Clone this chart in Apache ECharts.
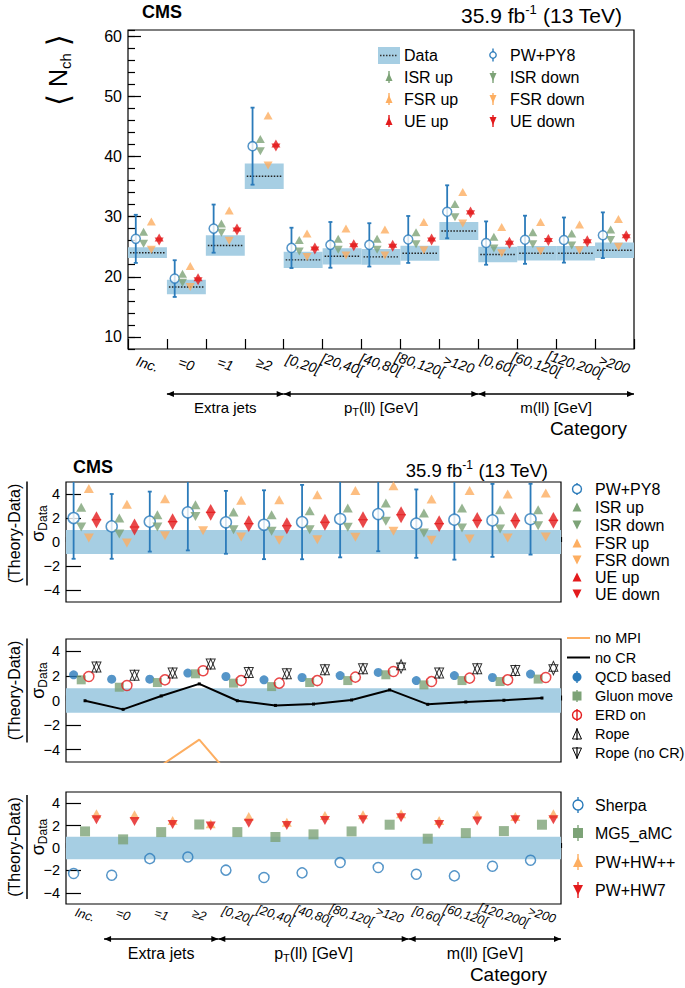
<!DOCTYPE html>
<html>
<head>
<meta charset="utf-8">
<script src="https://cdn.jsdelivr.net/npm/echarts@6/dist/echarts.min.js"></script>
<style>
  html, body { margin: 0; background: #fff; }
  #grafico { width: 685px; height: 988px; }
</style>
</head>
<body>
<div id="grafico"></div>
<script>
// categorias (eixo x)
const categorias = ['Inc.', '=0', '=1', '≥2', '[0,20[', '[20,40[', '[40,80[', '[80,120[', '>120', '[0,60[', '[60,120[', '[120,200[', '>200'];
const grupoNomes = ['Extra jets', 'p{sub|T}(ll) [GeV]', 'm(ll) [GeV]'];
const grupoInicio = [1, 4, 9];
const grupoFim = [4, 9, 13];

// painel de cima: <N_ch>
const ticksTopo = [10, 20, 30, 40, 50, 60];
const dados = [24.0, 18.3, 25.2, 36.7, 22.8, 23.4, 23.3, 23.9, 27.6, 23.7, 23.9, 23.9, 24.4];
const dadosErro = [0.9, 1.2, 1.7, 2.1, 1.35, 1.35, 1.3, 1.25, 1.5, 1.3, 1.2, 1.2, 1.3];
const pwpy8 = [26.3, 19.7, 28.0, 41.7, 24.8, 25.3, 25.3, 26.2, 30.8, 25.6, 26.15, 26.1, 26.9];
const pwpy8Erro = [4.0, 3.05, 4.0, 6.4, 3.35, 3.8, 3.6, 3.9, 4.4, 3.6, 4.0, 3.75, 3.8];
const isrUp = [27.5, 20.5, 28.85, 42.9, 26.1, 26.3, 26.3, 27.4, 32.1, 26.65, 27.4, 27.2, 27.85];
const isrDown = [25.5, 19.0, 27.3, 40.85, 24.2, 24.5, 24.5, 25.4, 29.9, 24.7, 25.4, 25.2, 26.1];
const fsrUp = [29.2, 21.8, 31.0, 46.8, 27.2, 28.0, 27.85, 29.1, 34.1, 28.25, 29.1, 28.7, 29.6];
const fsrDown = [24.5, 18.3, 26.0, 38.5, 23.3, 23.55, 23.55, 24.4, 28.85, 23.9, 24.25, 24.4, 25.0];
const ueUp = [26.53, 19.93, 28.18, 42.13, 25.03, 25.58, 25.48, 26.53, 31.03, 25.98, 26.43, 26.23, 27.08];
const ueDown = [25.87, 19.27, 27.52, 41.47, 24.37, 24.92, 24.82, 25.87, 30.37, 25.32, 25.77, 25.57, 26.42];

// paineis de razao (Theory-Data)/sigma
const ticksRazao = [-4, -2, 0, 2, 4];
const faixaDados = [-1, 1];
const pwpy8R = [2.0, 1.3, 1.7, 2.47, 1.64, 1.44, 1.66, 1.92, 2.33, 1.53, 1.86, 1.8, 1.9];
const pwpy8RErro = [3.4, 2.7, 2.5, 3.17, 2.62, 2.87, 3.1, 3.2, 3.1, 2.85, 3.33, 3.04, 2.95];
const isrUpR = [2.9, 2.0, 2.27, 3.1, 2.5, 2.27, 2.6, 2.83, 3.25, 2.42, 2.83, 2.69, 2.69];
const isrDownR = [1.25, 0.67, 1.25, 2.13, 1.03, 0.89, 1.03, 1.22, 1.72, 0.75, 1.17, 1.08, 1.36];
const fsrUpR = [4.45, 3.15, 3.6, 5.8, 3.47, 3.52, 3.94, 4.3, 4.69, 3.58, 4.3, 4.0, 4.08];
const fsrDownR = [0.33, -0.08, 0.52, 0.94, 0.42, 0.14, 0.19, 0.39, 0.89, 0.14, 0.25, 0.33, 0.42];
const ueUpR = [2.18, 1.58, 2.03, 2.8, 1.86, 1.69, 1.97, 2.19, 2.6, 1.86, 2.13, 2.11, 2.13];
const ueDownR = [1.52, 0.92, 1.37, 2.14, 1.2, 1.03, 1.31, 1.53, 1.94, 1.2, 1.47, 1.45, 1.47];

const noMPI = [-8.2, -7.9, -5.28, -3.18, -6.8, -7.6, -7.4, -7.0, -6.1, -7.7, -7.5, -7.3, -6.9];
const noCR = [-0.02, -0.72, 0.37, 1.35, -0.02, -0.4, -0.29, 0.04, 0.86, -0.31, -0.12, 0.02, 0.2];
const qcdBased = [2.09, 1.73, 1.73, 2.23, 1.95, 1.68, 1.87, 2.03, 2.28, 1.62, 2.03, 1.87, 2.15];
const gluonMove = [1.68, 1.08, 1.46, 2.17, 1.41, 1.13, 1.46, 1.62, 2.09, 1.27, 1.62, 1.54, 1.74];
const erdOn = [1.95, 1.22, 1.68, 2.42, 1.62, 1.41, 1.62, 1.9, 2.36, 1.54, 1.82, 1.68, 1.87];
const rope = [2.72, 2.06, 2.23, 2.97, 2.28, 2.17, 2.5, 2.58, 2.91, 2.23, 2.58, 2.44, 2.78];
const ropeNoCR = [2.72, 2.06, 2.23, 2.97, 2.28, 2.17, 2.5, 2.58, 2.63, 2.23, 2.58, 2.44, 2.5];

const sherpa = [-2.28, -2.43, -0.95, -0.8, -1.98, -2.63, -2.22, -1.3, -1.74, -2.34, -2.49, -1.63, -1.09];
const mg5amc = [1.48, 0.77, 1.42, 2.1, 1.42, 0.98, 1.22, 1.48, 2.08, 0.83, 1.33, 1.51, 2.08];
const pwhwpp = [3.05, 2.97, 2.46, 2.17, 2.82, 2.31, 2.9, 2.97, 3.06, 2.46, 2.97, 2.82, 3.06];
const pwhw7 = [2.52, 2.37, 2.1, 1.96, 2.22, 2.02, 2.46, 2.52, 2.7, 2.1, 2.4, 2.52, 2.52];

const FONTE = "'Liberation Sans', Arial, sans-serif";
const C_FAIXA = '#a6cee3', C_AZUL = '#2b7bba', C_VERDE = '#7da377', C_LARANJA = '#fdae61', C_VERMELHO = '#e31a1c';
const N = categorias.length;

const chart = echarts.init(document.getElementById('grafico'), null, { renderer: 'svg' });

const grids = [
  { left: 128, top: 30, width: 506, height: 319 },
  { left: 66, top: 482, width: 495, height: 120 },
  { left: 66, top: 639, width: 495, height: 123 },
  { left: 66, top: 792, width: 495, height: 112 }
].map(g => Object.assign({ show: true, borderColor: '#000', borderWidth: 1.2, backgroundColor: 'transparent' }, g));

const yIdx = [0, 2, 3, 4];

const xEixos = [];
grids.forEach((g, k) => {
  xEixos.push({
    gridIndex: k, type: 'value', position: 'bottom', min: 0, max: N, interval: 1,
    axisLine: { show: false }, splitLine: { show: false }, axisLabel: { show: false },
    axisTick: { inside: true, length: k === 0 ? 10 : 5, lineStyle: { color: '#000', width: 1.2 } }
  });
  xEixos.push({
    gridIndex: k, type: 'category', position: 'bottom', data: categorias, boundaryGap: true,
    axisLine: { show: false }, axisTick: { show: false },
    axisLabel: {
      show: k === 0 || k === 3, interval: 0, rotate: -18, align: 'center', verticalAlign: 'middle',
      margin: k === 0 ? 15 : 11, fontStyle: 'italic', fontSize: k === 0 ? 14 : 12.5, color: '#000', fontFamily: FONTE
    }
  });
});

const menos = v => (v < 0 ? '\u2212' + (-v) : '' + v);
const yEixos = [
  {
    gridIndex: 0, type: 'value', position: 'left', min: 8, max: 61,
    axisLine: { show: false }, splitLine: { show: false },
    axisTick: { inside: true, length: 13, customValues: ticksTopo, lineStyle: { color: '#000', width: 1.2 } },
    axisLabel: { customValues: ticksTopo, fontSize: 16, color: '#000', fontFamily: FONTE, margin: 6 }
  },
  {
    gridIndex: 0, type: 'value', position: 'left', min: 8, max: 61, interval: 2,
    axisLine: { show: false }, splitLine: { show: false }, axisLabel: { show: false },
    axisTick: { inside: true, length: 7, lineStyle: { color: '#000', width: 1.2 } }
  }
];
[1, 2, 3].forEach(k => yEixos.push({
  gridIndex: k, type: 'value', position: 'left', min: -5, max: 5,
  axisLine: { show: false }, splitLine: { show: false },
  axisTick: { inside: true, length: 15, customValues: ticksRazao, lineStyle: { color: '#000', width: 1.2 } },
  axisLabel: { customValues: ticksRazao, formatter: menos, fontSize: 14.5, color: '#000', fontFamily: FONTE, margin: 6 }
}));

// marcadores
function marcador(nome, valores, desloc, k, opts) {
  return Object.assign({
    name: nome, type: 'scatter', xAxisIndex: 2 * k, yAxisIndex: yIdx[k], z: 5, silent: true,
    data: valores.map((v, i) => [i + desloc, v])
  }, opts);
}
const tri = (cor, tam, baixo) => ({ symbol: 'triangle', symbolSize: tam, symbolRotate: baixo ? 180 : 0, itemStyle: { color: cor } });

function barras(valores, erros, desloc, k, cor) {
  return {
    type: 'custom', xAxisIndex: 2 * k, yAxisIndex: yIdx[k], z: 3, silent: true, clip: true,
    data: valores.map((v, i) => [i + desloc, v, erros[i]]),
    renderItem(params, api) {
      const x = api.value(0), v = api.value(1), e = api.value(2);
      const t = api.coord([x, v + e]), b = api.coord([x, v - e]);
      const st = { stroke: cor, lineWidth: 1.8 };
      return { type: 'group', children: [
        { type: 'line', shape: { x1: t[0], y1: t[1], x2: b[0], y2: b[1] }, style: st },
        { type: 'line', shape: { x1: t[0] - 2, y1: t[1], x2: t[0] + 2, y2: t[1] }, style: st },
        { type: 'line', shape: { x1: b[0] - 2, y1: b[1], x2: b[0] + 2, y2: b[1] }, style: st }
      ] };
    }
  };
}

function faixa(k) {
  return {
    type: 'custom', xAxisIndex: 2 * k, yAxisIndex: yIdx[k], z: 1, silent: true,
    data: [[0, faixaDados[0], N, faixaDados[1]]],
    renderItem(params, api) {
      const a = api.coord([api.value(0), api.value(3)]), b = api.coord([api.value(2), api.value(1)]);
      return { type: 'rect', shape: { x: a[0], y: a[1], width: b[0] - a[0], height: b[1] - a[1] }, style: { fill: C_FAIXA } };
    }
  };
}

const series = [
  {
    name: 'Data', type: 'custom', xAxisIndex: 0, yAxisIndex: 0, z: 1, silent: true,
    data: dados.map((v, i) => [i, v, dadosErro[i]]),
    renderItem(params, api) {
      const i = api.value(0), v = api.value(1), e = api.value(2);
      const a = api.coord([i, v + e]), b = api.coord([i + 1, v - e]);
      const m1 = api.coord([i, v]), m2 = api.coord([i + 1, v]);
      return { type: 'group', children: [
        { type: 'rect', shape: { x: a[0], y: a[1], width: b[0] - a[0], height: b[1] - a[1] }, style: { fill: C_FAIXA } },
        { type: 'line', shape: { x1: m1[0] + 2, y1: m1[1], x2: m2[0] - 2, y2: m2[1] }, style: { stroke: '#222', lineWidth: 1.4, lineDash: [1.5, 1.5] } }
      ] };
    }
  },
  barras(pwpy8, pwpy8Erro, 0.2, 0, C_AZUL),
  marcador('PW+PY8', pwpy8, 0.2, 0, { symbol: 'circle', symbolSize: 9, itemStyle: { color: '#fff', borderColor: C_AZUL, borderWidth: 1.5 } }),
  marcador('ISR up', isrUp, 0.4, 0, tri(C_VERDE, [9, 8])),
  marcador('ISR down', isrDown, 0.4, 0, tri(C_VERDE, [9, 8], true)),
  marcador('FSR up', fsrUp, 0.6, 0, tri(C_LARANJA, [9, 8])),
  marcador('FSR down', fsrDown, 0.6, 0, tri(C_LARANJA, [9, 8], true)),
  marcador('UE up', ueUp, 0.8, 0, tri(C_VERMELHO, [9, 8])),
  marcador('UE down', ueDown, 0.8, 0, tri(C_VERMELHO, [9, 8], true)),

  faixa(1),
  barras(pwpy8R, pwpy8RErro, 0.2, 1, C_AZUL),
  marcador('PW+PY8', pwpy8R, 0.2, 1, { symbol: 'circle', symbolSize: 11, itemStyle: { color: '#fff', borderColor: C_AZUL, borderWidth: 1.5 } }),
  marcador('ISR up', isrUpR, 0.4, 1, tri(C_VERDE, [10, 9])),
  marcador('ISR down', isrDownR, 0.4, 1, tri(C_VERDE, [10, 9], true)),
  marcador('FSR up', fsrUpR, 0.6, 1, tri(C_LARANJA, [10, 9])),
  marcador('FSR down', fsrDownR, 0.6, 1, tri(C_LARANJA, [10, 9], true)),
  marcador('UE up', ueUpR, 0.8, 1, tri(C_VERMELHO, [10, 9])),
  marcador('UE down', ueDownR, 0.8, 1, tri(C_VERMELHO, [10, 9], true)),

  faixa(2),
  { name: 'no MPI', type: 'line', xAxisIndex: 4, yAxisIndex: 3, z: 3, silent: true, clip: true, showSymbol: false,
    lineStyle: { color: C_LARANJA, width: 2 }, data: noMPI.map((v, i) => [i + 0.5, v]) },
  { name: 'no CR', type: 'line', xAxisIndex: 4, yAxisIndex: 3, z: 3, silent: true, clip: true,
    symbol: 'rect', symbolSize: 3, itemStyle: { color: '#000' },
    lineStyle: { color: '#000', width: 2 }, data: noCR.map((v, i) => [i + 0.5, v]) },
  marcador('QCD based', qcdBased, 0.2, 2, { symbol: 'circle', symbolSize: 9, itemStyle: { color: C_AZUL } }),
  marcador('Gluon move', gluonMove, 0.4, 2, { symbol: 'rect', symbolSize: 9, itemStyle: { color: C_VERDE } }),
  marcador('ERD on', erdOn, 0.6, 2, { symbol: 'circle', symbolSize: 10, itemStyle: { color: 'rgba(0,0,0,0)', borderColor: C_VERMELHO, borderWidth: 1.5 } }),
  marcador('Rope', rope, 0.8, 2, { symbol: 'triangle', symbolSize: [9, 10], itemStyle: { color: 'rgba(0,0,0,0)', borderColor: '#000', borderWidth: 1 } }),
  marcador('Rope (no CR)', ropeNoCR, 0.8, 2, { symbol: 'triangle', symbolSize: [9, 10], symbolRotate: 180, itemStyle: { color: 'rgba(0,0,0,0)', borderColor: '#000', borderWidth: 1 } }),

  faixa(3),
  marcador('Sherpa', sherpa, 0.2, 3, { symbol: 'circle', symbolSize: 10, itemStyle: { color: 'rgba(0,0,0,0)', borderColor: C_AZUL, borderWidth: 1.5 } }),
  marcador('MG5_aMC', mg5amc, 0.5, 3, { symbol: 'rect', symbolSize: 10, itemStyle: { color: C_VERDE } }),
  marcador('PW+HW++', pwhwpp, 0.8, 3, tri(C_LARANJA, [10, 9])),
  marcador('PW+HW7', pwhw7, 0.8, 3, tri(C_VERMELHO, [10, 9], true))
];

chart.setOption({
  animation: false,
  textStyle: { fontFamily: FONTE },
  grid: grids,
  xAxis: xEixos,
  yAxis: yEixos,
  series: series
});

// elementos graficos: legendas, titulos, setas
function texto(x, y, t, tam, extra) {
  return { type: 'text', x, y, silent: true, z: 10,
    style: Object.assign({ text: t, fontSize: tam, fontFamily: FONTE, fill: '#000', align: 'left', verticalAlign: 'middle' }, extra || {}) };
}
function linha(x1, y1, x2, y2, cor, lw, dash) {
  return { type: 'line', silent: true, z: 10, shape: { x1, y1, x2, y2 }, style: { stroke: cor, lineWidth: lw, lineDash: dash || null } };
}
function triCima(x, y, w, h, fill, stroke) {
  return { type: 'polygon', silent: true, z: 11, shape: { points: [[x, y - h / 2], [x - w / 2, y + h / 2], [x + w / 2, y + h / 2]] },
    style: { fill: fill, stroke: stroke || null, lineWidth: 1 } };
}
function triBaixo(x, y, w, h, fill, stroke) {
  return { type: 'polygon', silent: true, z: 11, shape: { points: [[x, y + h / 2], [x - w / 2, y - h / 2], [x + w / 2, y - h / 2]] },
    style: { fill: fill, stroke: stroke || null, lineWidth: 1 } };
}
function circulo(x, y, r, fill, stroke, lw) {
  return { type: 'circle', silent: true, z: 11, shape: { cx: x, cy: y, r }, style: { fill, stroke: stroke || null, lineWidth: lw || 1 } };
}
function retangulo(x, y, w, h, fill) {
  return { type: 'rect', silent: true, z: 10, shape: { x, y, width: w, height: h }, style: { fill } };
}

const g = [];
// cabecalhos
g.push(texto(142, 12, 'CMS', 18, { fontWeight: 'bold' }));
g.push(texto(622, 15, '35.9 fb{sup|-1} (13 TeV)', 21, { align: 'right', rich: { sup: { fontSize: 13, padding: [0, 0, 12, 0] } } }));
g.push(texto(73, 467, 'CMS', 18, { fontWeight: 'bold' }));
g.push(texto(548, 470, '35.9 fb{sup|-1} (13 TeV)', 18.5, { align: 'right', rich: { sup: { fontSize: 12, padding: [0, 0, 10, 0] } } }));

// titulo do eixo y de cima
g.push({ type: 'text', x: 58, y: 70, rotation: Math.PI / 2, silent: true, z: 10,
  style: { text: '{b|⟨} N{s|ch} {b|⟩}', fontSize: 25, fontFamily: FONTE, fill: '#000', align: 'center', verticalAlign: 'middle',
    rich: { b: { fontSize: 31, fontFamily: "'DejaVu Sans'" }, s: { fontSize: 15, padding: [14, 0, 0, 0] } } } });

// titulos dos paineis de razao
[533.5, 690.5, 847].forEach(cy => {
  g.push({ type: 'group', x: 27, y: cy, rotation: Math.PI / 2, silent: true, children: [
    { type: 'text', x: 0, y: -13, style: { text: '(Theory-Data)', fontSize: 16, fontFamily: FONTE, fill: '#000', align: 'center', verticalAlign: 'middle' } },
    { type: 'line', shape: { x1: -52, y1: 0, x2: 52, y2: 0 }, style: { stroke: '#000', lineWidth: 1.5 } },
    { type: 'text', x: 10, y: 11, style: { text: 'σ{s|Data}', fontSize: 18, fontFamily: FONTE, fill: '#000', align: 'center', verticalAlign: 'middle',
      rich: { s: { fontSize: 12, padding: [10, 0, 0, 0] } } } }
  ] });
});

// legenda de cima
const L = 16;
g.push(retangulo(378, 47, 22, 17, C_FAIXA), linha(380, 55.5, 398, 55.5, '#333', 1.5, [1.5, 1.5]), texto(404, 55, 'Data', L));
g.push(linha(493, 48.5, 493, 61.5, C_AZUL, 1.4), circulo(493, 55, 3.2, '#fff', C_AZUL, 1.3), texto(510, 55, 'PW+PY8', L));
[[77, C_VERDE, 'ISR'], [99, C_LARANJA, 'FSR'], [121, C_VERMELHO, 'UE']].forEach(([y, cor, n]) => {
  g.push(linha(389, y - 6, 389, y + 6, cor, 1.4), triCima(389, y, 7, 8, cor), texto(404, y, n + ' up', L));
  g.push(linha(493, y - 6, 493, y + 6, cor, 1.4), triBaixo(493, y, 7, 8, cor), texto(510, y, n + ' down', L));
});

// legenda painel 2
const y2 = [489, 507, 525, 543, 560, 577, 594];
g.push(linha(577, y2[0] - 6, 577, y2[0] + 6, C_AZUL, 1.4), circulo(577, y2[0], 4.5, '#fff', C_AZUL, 1.4), texto(595, y2[0], 'PW+PY8', L));
g.push(triCima(577, y2[1], 9, 9, C_VERDE), texto(595, y2[1], 'ISR up', L));
g.push(triBaixo(577, y2[2], 9, 9, C_VERDE), texto(595, y2[2], 'ISR down', L));
g.push(triCima(577, y2[3], 9, 9, C_LARANJA), texto(595, y2[3], 'FSR up', L));
g.push(triBaixo(577, y2[4], 9, 9, C_LARANJA), texto(595, y2[4], 'FSR down', L));
g.push(triCima(577, y2[5], 9, 9, C_VERMELHO), texto(595, y2[5], 'UE up', L));
g.push(triBaixo(577, y2[6], 9, 9, C_VERMELHO), texto(595, y2[6], 'UE down', L));

// legenda painel 3
const L3 = 14.5;
const y3 = [638, 657.5, 677, 696, 715, 734, 753];
g.push(linha(567, y3[0], 590, y3[0], C_LARANJA, 2), texto(595, y3[0], 'no MPI', L3));
g.push(linha(567, y3[1], 590, y3[1], '#000', 2), texto(595, y3[1], 'no CR', L3));
g.push(linha(577, y3[2] - 6, 577, y3[2] + 6, C_AZUL, 1.4), circulo(577, y3[2], 4.5, C_AZUL), texto(595, y3[2], 'QCD based', L3));
g.push(linha(577, y3[3] - 6, 577, y3[3] + 6, C_VERDE, 1.4), retangulo(572.5, y3[3] - 4.5, 9, 9, C_VERDE), texto(595, y3[3], 'Gluon move', L3));
g.push(linha(577, y3[4] - 6, 577, y3[4] + 6, C_VERMELHO, 1.4), circulo(577, y3[4], 4.5, 'rgba(0,0,0,0)', C_VERMELHO, 1.4), texto(595, y3[4], 'ERD on', L3));
g.push(linha(577, y3[5] - 6, 577, y3[5] + 6, '#000', 1.2), triCima(577, y3[5], 9, 10, 'rgba(0,0,0,0)', '#000'), texto(595, y3[5], 'Rope', L3));
g.push(linha(577, y3[6] - 6, 577, y3[6] + 6, '#000', 1.2), triBaixo(577, y3[6], 9, 10, 'rgba(0,0,0,0)', '#000'), texto(595, y3[6], 'Rope (no CR)', L3));

// legenda painel 4
const y4 = [805, 833, 862, 890];
g.push(linha(578, y4[0] - 8, 578, y4[0] + 8, C_AZUL, 1.4), circulo(578, y4[0], 5, '#fff', C_AZUL, 1.4), texto(595, y4[0], 'Sherpa', L));
g.push(linha(578, y4[1] - 8, 578, y4[1] + 8, C_VERDE, 1.4), retangulo(573, y4[1] - 5, 10, 10, C_VERDE), texto(595, y4[1], 'MG5_aMC', L));
g.push(linha(578, y4[2] - 8, 578, y4[2] + 8, C_LARANJA, 1.4), triCima(578, y4[2], 10, 10, C_LARANJA), texto(595, y4[2], 'PW+HW++', L));
g.push(linha(578, y4[3] - 8, 578, y4[3] + 8, C_VERMELHO, 1.4), triBaixo(578, y4[3], 10, 10, C_VERMELHO), texto(595, y4[3], 'PW+HW7', L));

// setas das categorias, posicionadas pelo proprio eixo
function setas(eixo, yS, yT, tamT) {
  grupoNomes.forEach((nome, j) => {
    const a = chart.convertToPixel({ xAxisIndex: eixo }, grupoInicio[j]);
    const b = chart.convertToPixel({ xAxisIndex: eixo }, grupoFim[j]);
    g.push(linha(a, yS, b, yS, '#000', 1.5));
    g.push({ type: 'polygon', silent: true, z: 10, shape: { points: [[a, yS], [a + 7, yS - 3], [a + 7, yS + 3]] }, style: { fill: '#000' } });
    g.push({ type: 'polygon', silent: true, z: 10, shape: { points: [[b, yS], [b - 7, yS - 3], [b - 7, yS + 3]] }, style: { fill: '#000' } });
    g.push(texto((a + b) / 2, yT, nome, tamT, { align: 'center', rich: { sub: { fontSize: 11, padding: [10, 0, 0, 0] } } }));
  });
}
setas(0, 394, 407, 15);
setas(6, 939, 953, 16);
g.push(texto(627, 428, 'Category', 19, { align: 'right' }));
g.push(texto(547, 974, 'Category', 19, { align: 'right' }));

chart.setOption({ graphic: g });
</script>
</body>
</html>
